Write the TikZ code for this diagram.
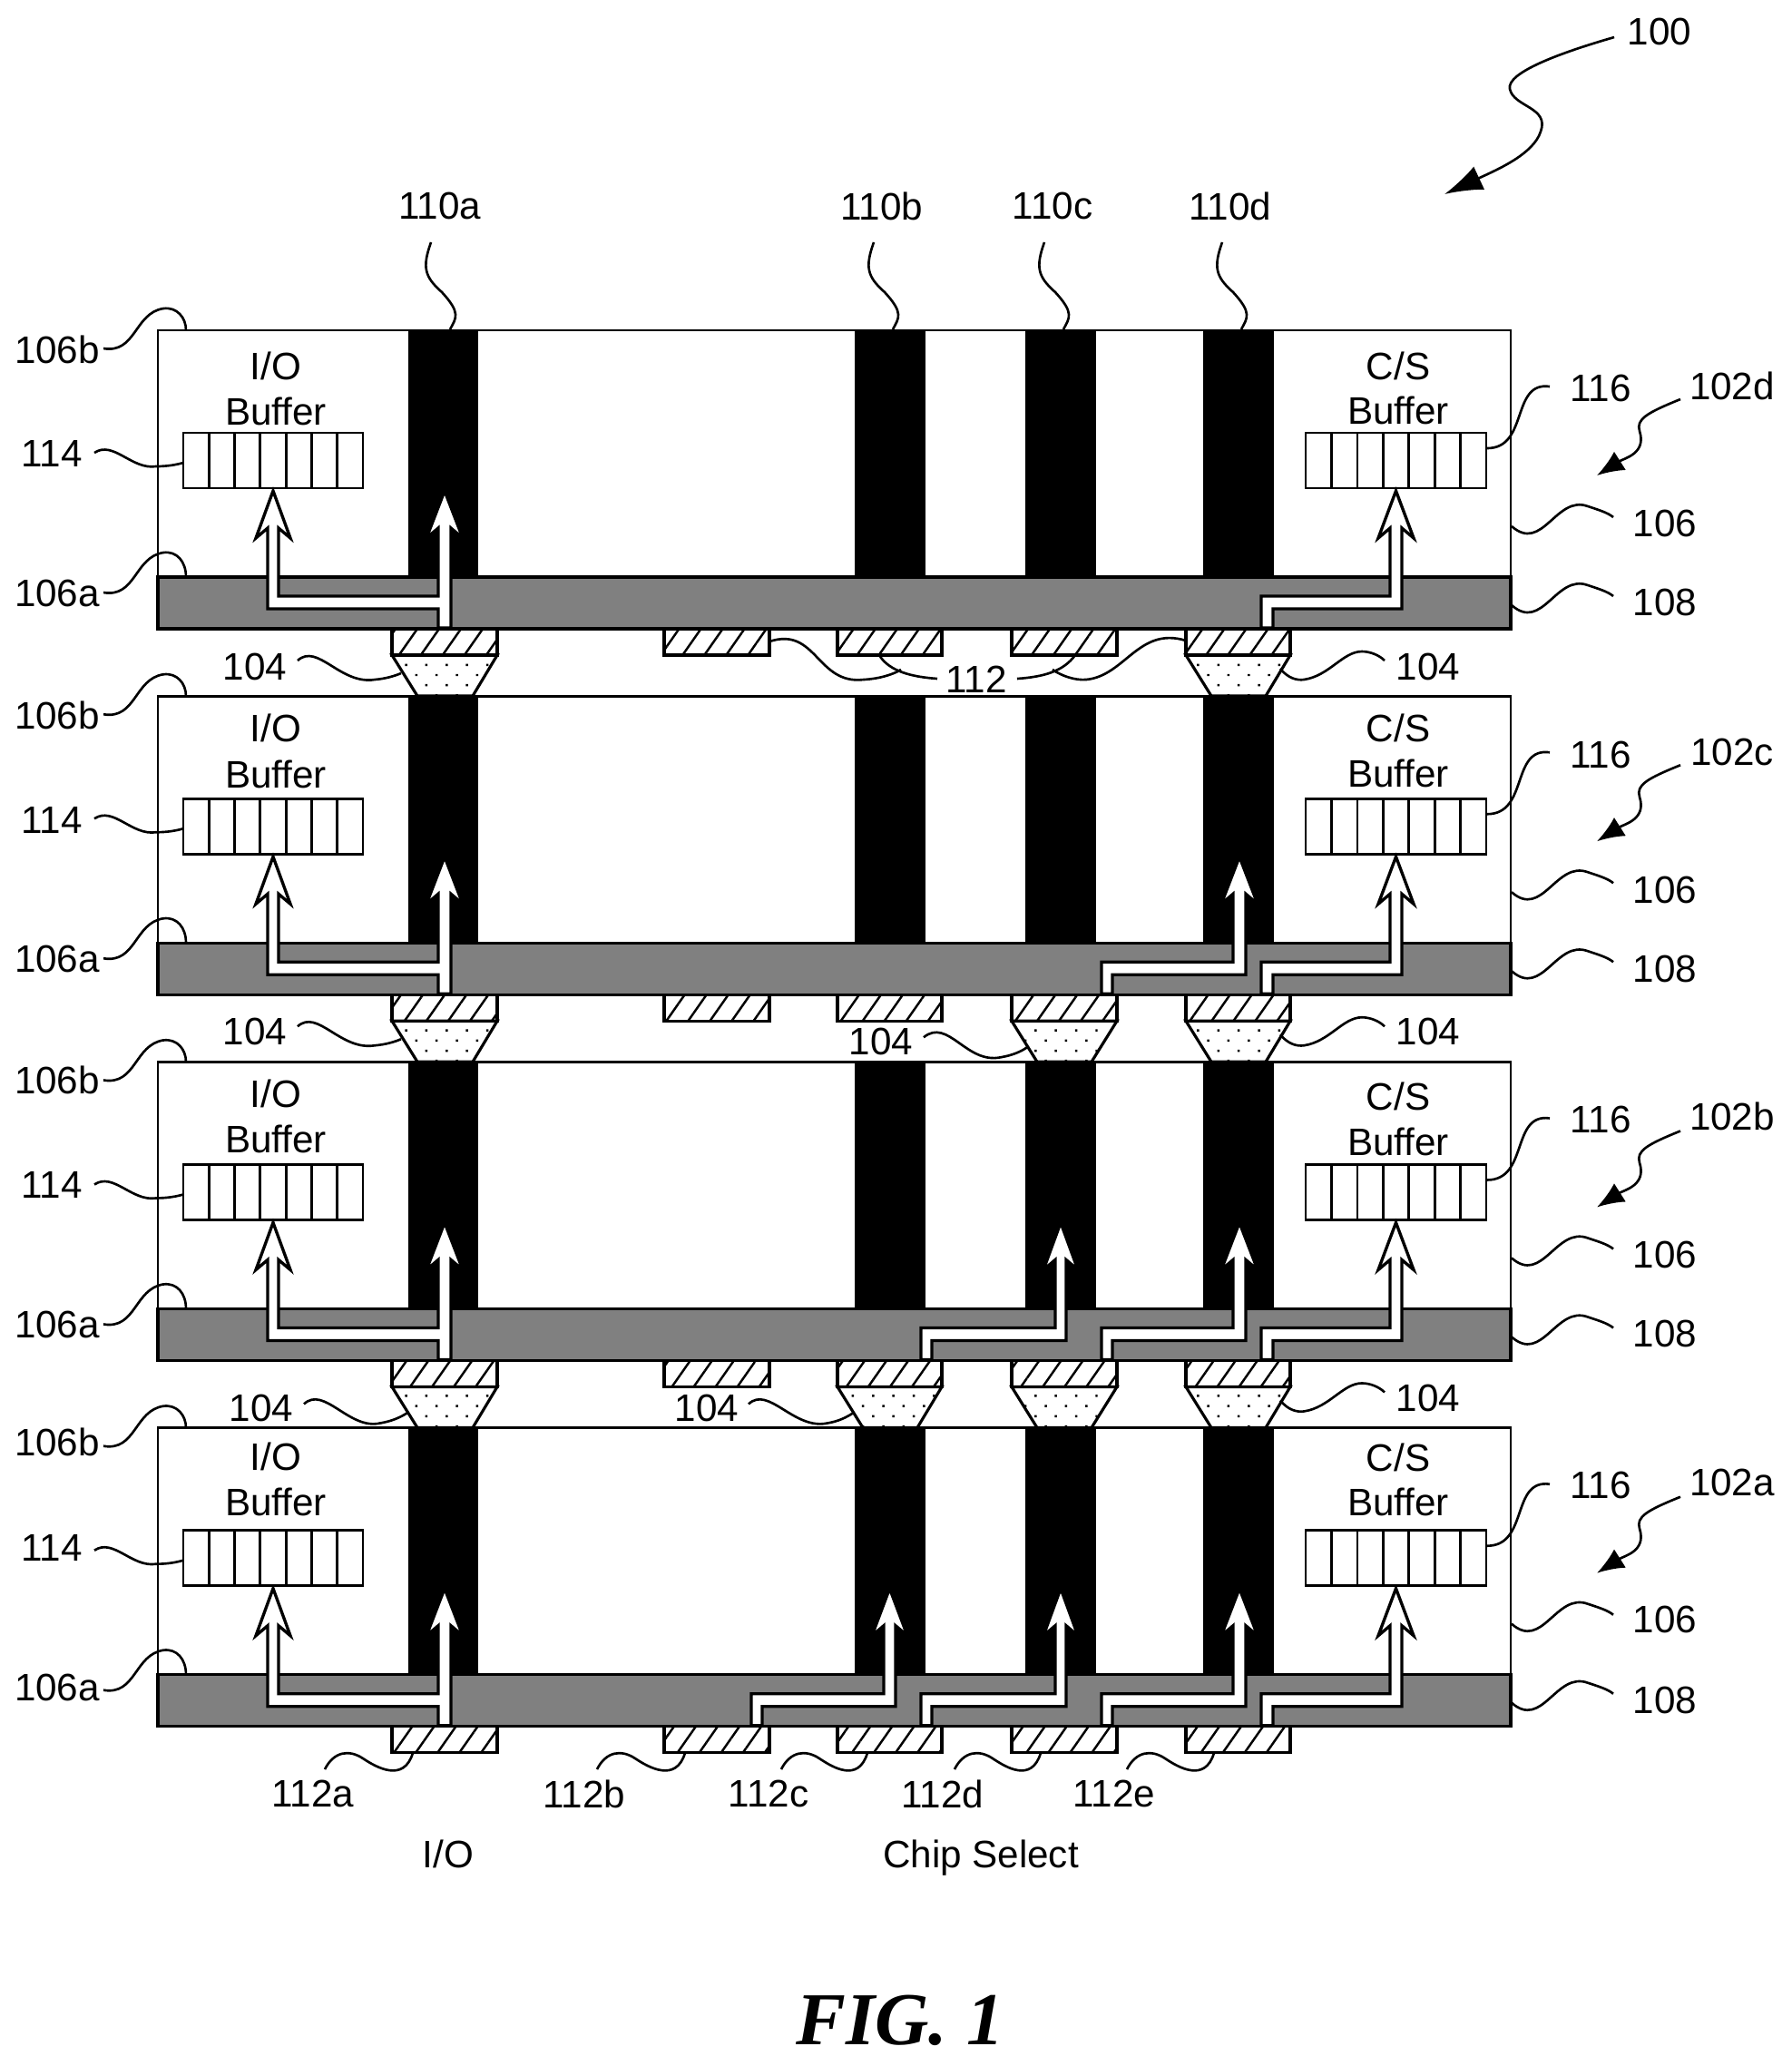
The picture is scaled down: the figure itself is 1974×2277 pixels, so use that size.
\documentclass[tikz,border=0pt]{standalone}
\usepackage{fontspec}
\setmainfont{Liberation Sans}
\newfontfamily\figfont{Liberation Serif}
\usetikzlibrary{arrows.meta,patterns.meta}
\tikzset{
  lbl/.style={font=\fontsize{12}{14}\selectfont,inner sep=0},
  lead/.style={line width=.75pt},
  headlead/.style={line width=.75pt,-{Latex[length=3mm,width=2.4mm]}},
  chipbox/.style={draw,line width=.8pt,fill=white},
  layerbox/.style={draw,line width=.9pt,fill=black!50},
  viabar/.style={fill=black},
  bufbox/.style={draw,line width=.8pt},
  sigpath/.style={draw,line width=.95pt,fill=white,miter limit=20},
  padbox/.style={draw,line width=.9pt,pattern={Lines[angle=55,distance=5.6pt,line width=.7pt]}},
  bumpshape/.style={draw,line width=.9pt,pattern={Dots[angle=45,distance=4.5pt,radius=.5pt]}}
}
\begin{document}
\begin{tikzpicture}[x=0.01cm,y=-0.01cm]
\useasboundingbox (0,0) rectangle (1974,2277);
\node[lbl] (num100) at (1829,35) {100};
\draw[lead,-{Latex[length=4.2mm,width=2.8mm]}] (num100.west)+(-14,6) .. controls (1720,58) and (1660,80) .. (1664,98) .. controls (1668,118) and (1708,118) .. (1698,145) .. controls (1690,170) and (1650,187) .. (1592,214);
\node[lbl] (via110a) at (485,227) {110a};
\node[lbl] (via110b) at (972,227) {110b};
\node[lbl] (via110c) at (1160,227) {110c};
\node[lbl] (via110d) at (1356,227) {110d};
\draw[lead] (475,267) .. controls (465,295) and (468,305) .. (487,322) .. controls (508,345) and (503,350) .. (496,363);
\draw[lead] (963,267) .. controls (953,295) and (956,305) .. (975,322) .. controls (996,345) and (991,350) .. (984,363);
\draw[lead] (1151,267) .. controls (1141,295) and (1144,305) .. (1163,322) .. controls (1184,345) and (1179,350) .. (1172,363);
\draw[lead] (1347,267) .. controls (1337,295) and (1340,305) .. (1359,322) .. controls (1380,345) and (1375,350) .. (1368,363);
\begin{scope}
\draw[chipbox] (174,364) rectangle (1665,693);
\draw[layerbox] (174,636) rectangle (1665,693);
\fill[viabar] (450,363) rectangle (527,636);
\fill[viabar] (942,363) rectangle (1020,636);
\fill[viabar] (1130,363) rectangle (1208,636);
\fill[viabar] (1326,363) rectangle (1404,636);
\draw[bufbox] (202,477) rectangle (400,538) (230.3,477) -- (230.3,538) (258.6,477) -- (258.6,538) (286.9,477) -- (286.9,538) (315.1,477) -- (315.1,538) (343.4,477) -- (343.4,538) (371.7,477) -- (371.7,538);
\draw[bufbox] (1439,477) rectangle (1638,538) (1467.4,477) -- (1467.4,538) (1495.9,477) -- (1495.9,538) (1524.3,477) -- (1524.3,538) (1552.7,477) -- (1552.7,538) (1581.1,477) -- (1581.1,538) (1609.6,477) -- (1609.6,538);
\draw[sigpath] (483,692) -- (483,671) -- (295,671) -- (295,582) -- (282,593) -- (301,541) -- (320,593) -- (307,582) -- (307,657) -- (483,657) -- (483,582) -- (470,593) -- (490,541) -- (510,593) -- (497,582) -- (497,692) -- cycle;
\draw[sigpath] (1390,692) -- (1390,657) -- (1532,657) -- (1532,582) -- (1519,593) -- (1538.5,541) -- (1558,593) -- (1545,582) -- (1545,671) -- (1403,671) -- (1403,692) -- cycle;
\draw[padbox] (432,693) rectangle (548,722);
\draw[padbox] (732,693) rectangle (848,722);
\draw[padbox] (923,693) rectangle (1038,722);
\draw[padbox] (1115,693) rectangle (1231,722);
\draw[padbox] (1307,693) rectangle (1422,722);
\draw[bumpshape] (432,722) -- (548,722) -- (521,767) -- (460,767) -- cycle;
\draw[bumpshape] (1307,722) -- (1422,722) -- (1395,767) -- (1335,767) -- cycle;
\node[lbl] (ioD) at (304,403) {I/O};
\node[lbl] (ibufD) at (304,453) {Buffer};
\node[lbl] (csD) at (1541,403) {C/S};
\node[lbl] (cbufD) at (1541,452) {Buffer};
\node[lbl] (topD) at (63,385) {106b};
\node[lbl] (botD) at (63,654) {106a};
\node[lbl] (iolabD) at (57,500) {114};
\node[lbl] (cslabD) at (1764,428) {116};
\node[lbl] (chipD) at (1909,425) {102d};
\node[lbl] (dieD) at (1835,577) {106};
\node[lbl] (rdlD) at (1835,664) {108};
\node[lbl] (bumpDl) at (281,735) {104};
\node[lbl] (bumpDr) at (1574,735) {104};
\node[lbl] (padlab) at (1076,749) {112};
\draw[lead] (114,384) .. controls (150,390) and (148,345) .. (180,340) .. controls (195,338) and (205,350) .. (205,364);
\draw[lead] (114,653) .. controls (150,659) and (148,614) .. (180,609) .. controls (195,607) and (205,619) .. (205,636);
\draw[lead] (104,499) .. controls (125,485) and (145,518) .. (172,514) .. controls (185,514) and (195,512) .. (202,510);
\draw[lead] (1708,426) .. controls (1665,420) and (1685,494) .. (1639,494);
\draw[lead] (1666,580) .. controls (1700,610) and (1715,545) .. (1750,558) .. controls (1762,562) and (1772,565) .. (1778,570);
\draw[lead] (1666,667) .. controls (1700,697) and (1715,632) .. (1750,645) .. controls (1762,649) and (1772,652) .. (1778,657);
\draw[lead] (328,728) .. controls (350,708) and (375,755) .. (413,749) .. controls (425,748) and (435,745) .. (442,742);
\draw[lead] (1411,737) .. controls (1420,748) and (1430,750) .. (1437,749) .. controls (1465,745) and (1480,718) .. (1501,718) .. controls (1510,718) and (1520,722) .. (1526,728);
\draw[headlead] (1852,440) .. controls (1815,455) and (1803,462) .. (1807,475) .. controls (1815,500) and (1790,505) .. (1760,524);
\draw[lead] (848,707) .. controls (900,690) and (900,755) .. (952,749) .. controls (970,748) and (985,743) .. (993,738);
\draw[lead] (969,722) .. controls (980,740) and (1005,746) .. (1033,748);
\draw[lead] (1121,748) .. controls (1150,746) and (1172,740) .. (1185,722);
\draw[lead] (1160,738) .. controls (1170,745) and (1185,750) .. (1197,749) .. controls (1240,745) and (1255,690) .. (1307,706);
\end{scope}
\begin{scope}[yshift=-4.03cm]
\draw[chipbox] (174,364) rectangle (1665,693);
\draw[layerbox] (174,636) rectangle (1665,693);
\fill[viabar] (450,363) rectangle (527,636);
\fill[viabar] (942,363) rectangle (1020,636);
\fill[viabar] (1130,363) rectangle (1208,636);
\fill[viabar] (1326,363) rectangle (1404,636);
\draw[bufbox] (202,477) rectangle (400,538) (230.3,477) -- (230.3,538) (258.6,477) -- (258.6,538) (286.9,477) -- (286.9,538) (315.1,477) -- (315.1,538) (343.4,477) -- (343.4,538) (371.7,477) -- (371.7,538);
\draw[bufbox] (1439,477) rectangle (1638,538) (1467.4,477) -- (1467.4,538) (1495.9,477) -- (1495.9,538) (1524.3,477) -- (1524.3,538) (1552.7,477) -- (1552.7,538) (1581.1,477) -- (1581.1,538) (1609.6,477) -- (1609.6,538);
\draw[sigpath] (483,692) -- (483,671) -- (295,671) -- (295,582) -- (282,593) -- (301,541) -- (320,593) -- (307,582) -- (307,657) -- (483,657) -- (483,582) -- (470,593) -- (490,541) -- (510,593) -- (497,582) -- (497,692) -- cycle;
\draw[sigpath] (1214,692) -- (1214,657) -- (1359,657) -- (1359,582) -- (1346,593) -- (1366,541) -- (1386,593) -- (1373,582) -- (1373,671) -- (1226,671) -- (1226,692) -- cycle;
\draw[sigpath] (1390,692) -- (1390,657) -- (1532,657) -- (1532,582) -- (1519,593) -- (1538.5,541) -- (1558,593) -- (1545,582) -- (1545,671) -- (1403,671) -- (1403,692) -- cycle;
\draw[padbox] (432,693) rectangle (548,722);
\draw[padbox] (732,693) rectangle (848,722);
\draw[padbox] (923,693) rectangle (1038,722);
\draw[padbox] (1115,693) rectangle (1231,722);
\draw[padbox] (1307,693) rectangle (1422,722);
\draw[bumpshape] (432,722) -- (548,722) -- (521,767) -- (460,767) -- cycle;
\draw[bumpshape] (1115,722) -- (1231,722) -- (1203,767) -- (1143,767) -- cycle;
\draw[bumpshape] (1307,722) -- (1422,722) -- (1395,767) -- (1335,767) -- cycle;
\node[lbl] (ioC) at (304,399) {I/O};
\node[lbl] (ibufC) at (304,450) {Buffer};
\node[lbl] (csC) at (1541,399) {C/S};
\node[lbl] (cbufC) at (1541,449) {Buffer};
\node[lbl] (topC) at (63,385) {106b};
\node[lbl] (botC) at (63,654) {106a};
\node[lbl] (iolabC) at (57,501) {114};
\node[lbl] (cslabC) at (1764,429) {116};
\node[lbl] (chipC) at (1909,426) {102c};
\node[lbl] (dieC) at (1835,578) {106};
\node[lbl] (rdlC) at (1835,665) {108};
\node[lbl] (bumpCl) at (281,734) {104};
\node[lbl] (bumpCm) at (971,745) {104};
\node[lbl] (bumpCr) at (1574,734) {104};
\draw[lead] (114,384) .. controls (150,390) and (148,345) .. (180,340) .. controls (195,338) and (205,350) .. (205,364);
\draw[lead] (114,653) .. controls (150,659) and (148,614) .. (180,609) .. controls (195,607) and (205,619) .. (205,636);
\draw[lead] (104,499) .. controls (125,485) and (145,518) .. (172,514) .. controls (185,514) and (195,512) .. (202,510);
\draw[lead] (1708,426) .. controls (1665,420) and (1685,494) .. (1639,494);
\draw[lead] (1666,580) .. controls (1700,610) and (1715,545) .. (1750,558) .. controls (1762,562) and (1772,565) .. (1778,570);
\draw[lead] (1666,667) .. controls (1700,697) and (1715,632) .. (1750,645) .. controls (1762,649) and (1772,652) .. (1778,657);
\draw[lead] (328,728) .. controls (350,708) and (375,755) .. (413,749) .. controls (425,748) and (435,745) .. (442,742);
\draw[lead] (1018,740) .. controls (1045,718) and (1065,770) .. (1103,762) .. controls (1115,760) and (1125,756) .. (1132,751);
\draw[lead] (1411,737) .. controls (1420,748) and (1430,750) .. (1437,749) .. controls (1465,745) and (1480,718) .. (1501,718) .. controls (1510,718) and (1520,722) .. (1526,728);
\draw[headlead] (1852,440) .. controls (1815,455) and (1803,462) .. (1807,475) .. controls (1815,500) and (1790,505) .. (1760,524);
\end{scope}
\begin{scope}[yshift=-8.06cm]
\draw[chipbox] (174,364) rectangle (1665,693);
\draw[layerbox] (174,636) rectangle (1665,693);
\fill[viabar] (450,363) rectangle (527,636);
\fill[viabar] (942,363) rectangle (1020,636);
\fill[viabar] (1130,363) rectangle (1208,636);
\fill[viabar] (1326,363) rectangle (1404,636);
\draw[bufbox] (202,477) rectangle (400,538) (230.3,477) -- (230.3,538) (258.6,477) -- (258.6,538) (286.9,477) -- (286.9,538) (315.1,477) -- (315.1,538) (343.4,477) -- (343.4,538) (371.7,477) -- (371.7,538);
\draw[bufbox] (1439,477) rectangle (1638,538) (1467.4,477) -- (1467.4,538) (1495.9,477) -- (1495.9,538) (1524.3,477) -- (1524.3,538) (1552.7,477) -- (1552.7,538) (1581.1,477) -- (1581.1,538) (1609.6,477) -- (1609.6,538);
\draw[sigpath] (483,692) -- (483,671) -- (295,671) -- (295,582) -- (282,593) -- (301,541) -- (320,593) -- (307,582) -- (307,657) -- (483,657) -- (483,582) -- (470,593) -- (490,541) -- (510,593) -- (497,582) -- (497,692) -- cycle;
\draw[sigpath] (1015,692) -- (1015,657) -- (1163,657) -- (1163,582) -- (1150,593) -- (1169,541) -- (1188,593) -- (1175,582) -- (1175,671) -- (1027,671) -- (1027,692) -- cycle;
\draw[sigpath] (1214,692) -- (1214,657) -- (1359,657) -- (1359,582) -- (1346,593) -- (1366,541) -- (1386,593) -- (1373,582) -- (1373,671) -- (1226,671) -- (1226,692) -- cycle;
\draw[sigpath] (1390,692) -- (1390,657) -- (1532,657) -- (1532,582) -- (1519,593) -- (1538.5,541) -- (1558,593) -- (1545,582) -- (1545,671) -- (1403,671) -- (1403,692) -- cycle;
\draw[padbox] (432,693) rectangle (548,722);
\draw[padbox] (732,693) rectangle (848,722);
\draw[padbox] (923,693) rectangle (1038,722);
\draw[padbox] (1115,693) rectangle (1231,722);
\draw[padbox] (1307,693) rectangle (1422,722);
\draw[bumpshape] (432,722) -- (548,722) -- (521,767) -- (460,767) -- cycle;
\draw[bumpshape] (923,722) -- (1038,722) -- (1011,767) -- (951,767) -- cycle;
\draw[bumpshape] (1115,722) -- (1231,722) -- (1203,767) -- (1143,767) -- cycle;
\draw[bumpshape] (1307,722) -- (1422,722) -- (1395,767) -- (1335,767) -- cycle;
\node[lbl] (ioB) at (304,399) {I/O};
\node[lbl] (ibufB) at (304,449) {Buffer};
\node[lbl] (csB) at (1541,402) {C/S};
\node[lbl] (cbufB) at (1541,452) {Buffer};
\node[lbl] (topB) at (63,384) {106b};
\node[lbl] (botB) at (63,653) {106a};
\node[lbl] (iolabB) at (57,499) {114};
\node[lbl] (cslabB) at (1764,427) {116};
\node[lbl] (chipB) at (1909,424) {102b};
\node[lbl] (dieB) at (1835,576) {106};
\node[lbl] (rdlB) at (1835,663) {108};
\node[lbl] (bumpBl) at (288,745) {104};
\node[lbl] (bumpBm) at (779,745) {104};
\node[lbl] (bumpBr) at (1574,734) {104};
\draw[lead] (114,384) .. controls (150,390) and (148,345) .. (180,340) .. controls (195,338) and (205,350) .. (205,364);
\draw[lead] (114,653) .. controls (150,659) and (148,614) .. (180,609) .. controls (195,607) and (205,619) .. (205,636);
\draw[lead] (104,499) .. controls (125,485) and (145,518) .. (172,514) .. controls (185,514) and (195,512) .. (202,510);
\draw[lead] (1708,426) .. controls (1665,420) and (1685,494) .. (1639,494);
\draw[lead] (1666,580) .. controls (1700,610) and (1715,545) .. (1750,558) .. controls (1762,562) and (1772,565) .. (1778,570);
\draw[lead] (1666,667) .. controls (1700,697) and (1715,632) .. (1750,645) .. controls (1762,649) and (1772,652) .. (1778,657);
\draw[lead] (335,741) .. controls (357,720) and (385,770) .. (419,762) .. controls (431,760) and (441,756) .. (450,750);
\draw[lead] (825,741) .. controls (847,720) and (875,770) .. (912,762) .. controls (924,760) and (932,756) .. (940,751);
\draw[lead] (1411,737) .. controls (1420,748) and (1430,750) .. (1437,749) .. controls (1465,745) and (1480,718) .. (1501,718) .. controls (1510,718) and (1520,722) .. (1526,728);
\draw[headlead] (1852,440) .. controls (1815,455) and (1803,462) .. (1807,475) .. controls (1815,500) and (1790,505) .. (1760,524);
\end{scope}
\begin{scope}[yshift=-12.09cm]
\draw[chipbox] (174,364) rectangle (1665,693);
\draw[layerbox] (174,636) rectangle (1665,693);
\fill[viabar] (450,363) rectangle (527,636);
\fill[viabar] (942,363) rectangle (1020,636);
\fill[viabar] (1130,363) rectangle (1208,636);
\fill[viabar] (1326,363) rectangle (1404,636);
\draw[bufbox] (202,477) rectangle (400,538) (230.3,477) -- (230.3,538) (258.6,477) -- (258.6,538) (286.9,477) -- (286.9,538) (315.1,477) -- (315.1,538) (343.4,477) -- (343.4,538) (371.7,477) -- (371.7,538);
\draw[bufbox] (1439,477) rectangle (1638,538) (1467.4,477) -- (1467.4,538) (1495.9,477) -- (1495.9,538) (1524.3,477) -- (1524.3,538) (1552.7,477) -- (1552.7,538) (1581.1,477) -- (1581.1,538) (1609.6,477) -- (1609.6,538);
\draw[sigpath] (483,692) -- (483,671) -- (295,671) -- (295,582) -- (282,593) -- (301,541) -- (320,593) -- (307,582) -- (307,657) -- (483,657) -- (483,582) -- (470,593) -- (490,541) -- (510,593) -- (497,582) -- (497,692) -- cycle;
\draw[sigpath] (828,692) -- (828,657) -- (974,657) -- (974,582) -- (961,593) -- (980.5,541) -- (1000,593) -- (987,582) -- (987,671) -- (840,671) -- (840,692) -- cycle;
\draw[sigpath] (1015,692) -- (1015,657) -- (1163,657) -- (1163,582) -- (1150,593) -- (1169,541) -- (1188,593) -- (1175,582) -- (1175,671) -- (1027,671) -- (1027,692) -- cycle;
\draw[sigpath] (1214,692) -- (1214,657) -- (1359,657) -- (1359,582) -- (1346,593) -- (1366,541) -- (1386,593) -- (1373,582) -- (1373,671) -- (1226,671) -- (1226,692) -- cycle;
\draw[sigpath] (1390,692) -- (1390,657) -- (1532,657) -- (1532,582) -- (1519,593) -- (1538.5,541) -- (1558,593) -- (1545,582) -- (1545,671) -- (1403,671) -- (1403,692) -- cycle;
\draw[padbox] (432,693) rectangle (548,722);
\draw[padbox] (732,693) rectangle (848,722);
\draw[padbox] (923,693) rectangle (1038,722);
\draw[padbox] (1115,693) rectangle (1231,722);
\draw[padbox] (1307,693) rectangle (1422,722);
\node[lbl] (ioA) at (304,396) {I/O};
\node[lbl] (ibufA) at (304,446) {Buffer};
\node[lbl] (csA) at (1541,397) {C/S};
\node[lbl] (cbufA) at (1541,446) {Buffer};
\node[lbl] (topA) at (63,380) {106b};
\node[lbl] (botA) at (63,650) {106a};
\node[lbl] (iolabA) at (57,496) {114};
\node[lbl] (cslabA) at (1764,427) {116};
\node[lbl] (chipA) at (1909,424) {102a};
\node[lbl] (dieA) at (1835,575) {106};
\node[lbl] (rdlA) at (1835,664) {108};
\draw[lead] (114,384) .. controls (150,390) and (148,345) .. (180,340) .. controls (195,338) and (205,350) .. (205,364);
\draw[lead] (114,653) .. controls (150,659) and (148,614) .. (180,609) .. controls (195,607) and (205,619) .. (205,636);
\draw[lead] (104,499) .. controls (125,485) and (145,518) .. (172,514) .. controls (185,514) and (195,512) .. (202,510);
\draw[lead] (1708,426) .. controls (1665,420) and (1685,494) .. (1639,494);
\draw[lead] (1666,580) .. controls (1700,610) and (1715,545) .. (1750,558) .. controls (1762,562) and (1772,565) .. (1778,570);
\draw[lead] (1666,667) .. controls (1700,697) and (1715,632) .. (1750,645) .. controls (1762,649) and (1772,652) .. (1778,657);
\draw[headlead] (1852,440) .. controls (1815,455) and (1803,462) .. (1807,475) .. controls (1815,500) and (1790,505) .. (1760,524);
\end{scope}
\node[lbl] (pad112a) at (345,1977) {112a};
\node[lbl] (pad112b) at (644,1977) {112b};
\node[lbl] (pad112c) at (847,1977) {112c};
\node[lbl] (pad112d) at (1039,1977) {112d};
\node[lbl] (pad112e) at (1228,1977) {112e};
\draw[lead] (358,1950) .. controls (368,1930) and (385,1928) .. (400,1938) .. controls (415,1948) and (445,1965) .. (455,1932);
\draw[lead] (658,1950) .. controls (668,1930) and (685,1928) .. (700,1938) .. controls (715,1948) and (745,1965) .. (755,1932);
\draw[lead] (861,1950) .. controls (871,1930) and (888,1928) .. (903,1938) .. controls (918,1948) and (946,1965) .. (956,1932);
\draw[lead] (1052,1950) .. controls (1062,1930) and (1079,1928) .. (1094,1938) .. controls (1109,1948) and (1137,1965) .. (1147,1932);
\draw[lead] (1242,1950) .. controls (1252,1930) and (1269,1928) .. (1284,1938) .. controls (1299,1948) and (1328,1965) .. (1338,1932);
\node[lbl] (sigio) at (494,2043) {I/O};
\node[lbl] (sigcs) at (1081,2048) {Chip Select};
\node[font=\figfont\fontsize{23.4}{28}\selectfont\bfseries\itshape,inner sep=0] (figlab) at (992,2227) {FIG. 1};
\end{tikzpicture}
\end{document}
